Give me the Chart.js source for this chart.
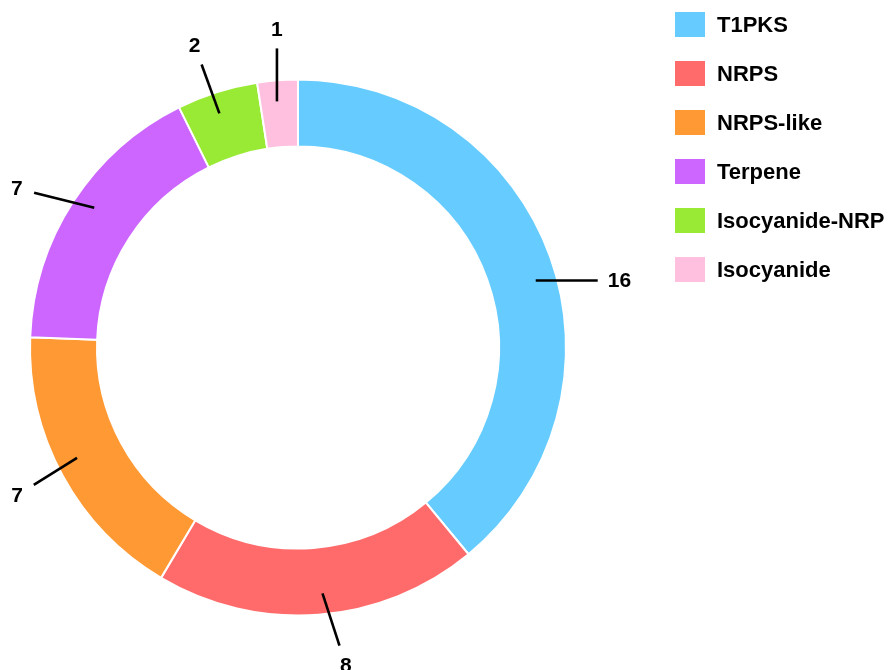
<!DOCTYPE html>
<html>
<head>
<meta charset="utf-8">
<script src="https://cdn.jsdelivr.net/npm/chart.js@4.4.1/dist/chart.umd.min.js"></script>
<style>
  body { margin: 0; background: #fff; font-family: "Liberation Sans", Arial, sans-serif; }
  #wrap { position: relative; width: 891px; height: 670px; }
  #legend { position: absolute; left: 675px; top: 12px; }
  .row { display: flex; align-items: center; height: 25px; margin-bottom: 24px; }
  .box { width: 30px; height: 25px; margin-right: 12px; }
  .row span { font-size: 22px; font-weight: bold; color: #000; }
</style>
</head>
<body>
<div id="wrap">
  <canvas id="chart"></canvas>
  <div id="legend"></div>
</div>
<script>
const labels = ['T1PKS', 'NRPS', 'NRPS-like', 'Terpene', 'Isocyanide-NRP', 'Isocyanide'];
const counts = [16, 8, 7, 7, 2, 1];
const colors = ['#66ccff', '#ff6b6b', '#ff9933', '#cc66ff', '#99ea35', '#ffc0df'];

// leader line styling per slice: angle shift (deg), direction (deg), length (px)
const leaders = [
  { shift: 4, dir: 0, len: 62 },
  { shift: -1.3, dir: 72, len: 55 },
  { shift: 2, dir: 148, len: 51 },
  { shift: 1.5, dir: 194, len: 62 },
  { shift: -1, dir: -110, len: 52 },
  { shift: -0.5, dir: -90, len: 53 }
];

const leaderLabels = {
  id: 'leaderLabels',
  afterDatasetsDraw(chart) {
    const ctx = chart.ctx;
    const arcs = chart.getDatasetMeta(0).data;
    ctx.save();
    ctx.strokeStyle = '#000';
    ctx.lineWidth = 2.6;
    ctx.fillStyle = '#000';
    ctx.font = 'bold 21px "Liberation Sans", Arial, sans-serif';
    ctx.textAlign = 'center';
    ctx.textBaseline = 'middle';
    arcs.forEach((arc, i) => {
      const p = arc.getProps(['x', 'y', 'startAngle', 'endAngle', 'outerRadius'], true);
      const cfg = leaders[i];
      const mid = (p.startAngle + p.endAngle) / 2 + cfg.shift * Math.PI / 180;
      const r = p.outerRadius - 21;
      const ax = p.x + r * Math.cos(mid);
      const ay = p.y + r * Math.sin(mid);
      const d = cfg.dir * Math.PI / 180;
      const ux = Math.cos(d), uy = Math.sin(d);
      const ex = ax + ux * cfg.len;
      const ey = ay + uy * cfg.len;
      ctx.beginPath();
      ctx.moveTo(ax, ay);
      ctx.lineTo(ex, ey);
      ctx.stroke();
      const txt = String(counts[i]);
      const w = ctx.measureText(txt).width;
      const k = 10 + Math.abs(ux) * w / 2 + Math.abs(uy) * 9;
      ctx.fillText(txt, ex + ux * k, ey + uy * k + 1);
    });
    ctx.restore();
  }
};

new Chart(document.getElementById('chart'), {
  type: 'doughnut',
  data: {
    labels,
    datasets: [{
      data: counts,
      backgroundColor: colors,
      borderColor: '#fff',
      borderWidth: 2,
      hoverOffset: 0,
      hoverBorderWidth: 2
    }]
  },
  options: {
    responsive: true,
    maintainAspectRatio: false,
    animation: false,
    events: [],
    cutout: '75%',
    layout: { padding: { left: 29, top: 78, right: 324, bottom: 53 } },
    plugins: {
      legend: { display: false },
      tooltip: { enabled: false }
    }
  },
  plugins: [leaderLabels]
});

const legend = document.getElementById('legend');
labels.forEach((l, i) => {
  const row = document.createElement('div');
  row.className = 'row';
  row.innerHTML = `<div class="box" style="background:${colors[i]}"></div><span>${l}</span>`;
  legend.appendChild(row);
});
</script>
</body>
</html>
